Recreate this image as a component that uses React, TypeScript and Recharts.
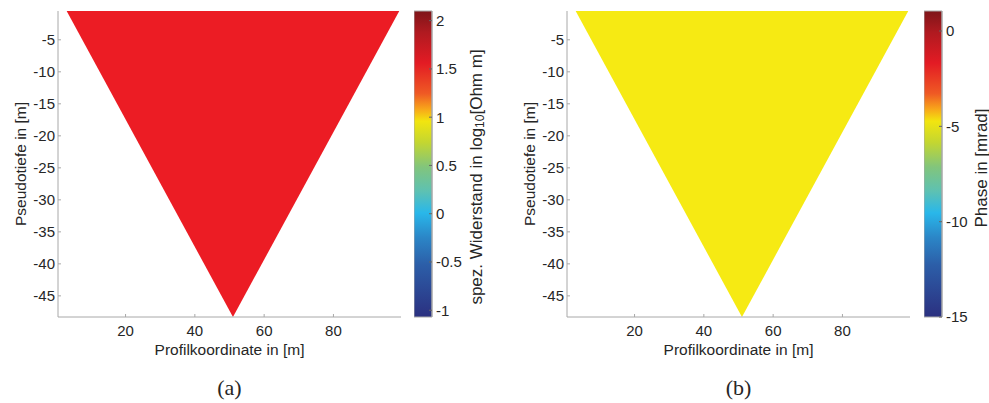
import React from 'react';
import { ComposedChart, Area, XAxis, YAxis, ReferenceArea, Label } from 'recharts';

// Section geometry (profile coordinate in m, pseudo-depth in m)
const profileX = [3, 51, 99];
const depthUpper = [-0.5, -0.5, -0.5];
const depthLower = [-0.5, -48.3, -0.5];

const xTicks = [20, 40, 60, 80];
const yTicks = [-45, -40, -35, -30, -25, -20, -15, -10, -5];
const xDomain = [0.5, 99.5];
const yDomain = [-48.3, -0.5];

// Colour bars
const resTicks = [-1, -0.5, 0, 0.5, 1, 1.5, 2];
const resDomain = [-1.07, 2.1];
const phaseTicks = [-15, -10, -5, 0];
const phaseDomain = [-15, 1.05];

const captions = ['(a)', '(b)'];
const xLabelText = 'Profilkoordinate in [m]';
const yLabelText = 'Pseudotiefe in [m]';

const sectionData = profileX.map((x, i) => ({ x, band: [depthLower[i], depthUpper[i]] }));

const AX = '#a8a8a8';
const TXT = '#262626';
const SANS = '"Liberation Sans", Arial, Helvetica, sans-serif';
const SERIF = '"Liberation Serif", "DejaVu Serif", serif';

const cmapStops: [number, string][] = [
  [0, '#7e1519'],
  [0.07, '#b01a20'],
  [0.17, '#e31b24'],
  [0.27, '#ef5a24'],
  [0.32, '#f8a51a'],
  [0.36, '#f2e50f'],
  [0.43, '#c3d631'],
  [0.51, '#82c57c'],
  [0.59, '#5dc1b3'],
  [0.66, '#29b7ea'],
  [0.74, '#2b86c7'],
  [0.83, '#2c5ea8'],
  [1, '#2b3080'],
];

const tickStyle = { fill: TXT, fontSize: 15, fontFamily: SANS };

function Section({ left, fill, caption }: { left: number; fill: string; caption: string }) {
  return (
    <div style={{ position: 'absolute', left, top: 0 }}>
      <ComposedChart width={58 + 345} height={403} data={sectionData} margin={{ top: 11, right: 2, bottom: 46, left: 0 }}>
        <XAxis
          dataKey="x"
          type="number"
          domain={xDomain}
          ticks={xTicks}
          allowDataOverflow
          height={40}
          tickSize={-3}
          tickMargin={11}
          axisLine={{ stroke: AX }}
          tickLine={{ stroke: AX }}
          tick={tickStyle}
        >
          <Label
            content={(p: any) => {
              const vb = p.viewBox;
              return (
                <g>
                  <text x={vb.x + vb.width / 2} y={vb.y + 38} textAnchor="middle" fill={TXT} fontSize={15.5} fontFamily={SANS}>
                    {xLabelText}
                  </text>
                  <text x={vb.x + vb.width / 2} y={395} textAnchor="middle" fill={TXT} fontSize={22} fontFamily={SERIF}>
                    {caption}
                  </text>
                </g>
              );
            }}
          />
        </XAxis>
        <XAxis xAxisId="top" orientation="top" type="number" domain={xDomain} ticks={xTicks} allowDataOverflow height={0} tickSize={-3} tickFormatter={() => ''} axisLine={{ stroke: AX }} tickLine={{ stroke: AX }} />
        <YAxis
          type="number"
          domain={yDomain}
          ticks={yTicks}
          allowDataOverflow
          width={58}
          tickSize={-3}
          tickMargin={6}
          axisLine={{ stroke: AX }}
          tickLine={{ stroke: AX }}
          tick={tickStyle}
        >
          <Label
            content={(p: any) => {
              const vb = p.viewBox;
              const cy = vb.y + vb.height / 2;
              return (
                <text transform={`translate(20, ${cy}) rotate(-90)`} textAnchor="middle" dominantBaseline="central" fill={TXT} fontSize={15.5} fontFamily={SANS}>
                  {yLabelText}
                </text>
              );
            }}
          />
        </YAxis>
        <YAxis yAxisId="right" orientation="right" type="number" domain={yDomain} ticks={yTicks} allowDataOverflow width={0} tickSize={-3} tickFormatter={() => ''} axisLine={{ stroke: AX }} tickLine={{ stroke: AX }} />
        <Area dataKey="band" type="linear" stroke="none" fill={fill} fillOpacity={1} isAnimationActive={false} />
      </ComposedChart>
    </div>
  );
}

function Colorbar({ left, domain, ticks, gradId, label, labelX, labelY }: { left: number; domain: number[]; ticks: number[]; gradId: string; label: React.ReactNode; labelX: number; labelY: number }) {
  const data = [{ c: 0 }, { c: 1 }];
  return (
    <div style={{ position: 'absolute', left, top: 0 }}>
      <ComposedChart width={18 + 70} height={403} data={data} margin={{ top: 11, right: 0, bottom: 86, left: 0 }}>
        <defs>
          <linearGradient id={gradId} x1="0" y1="0" x2="0" y2="1">
            {cmapStops.map(([o, c]) => (
              <stop key={o} offset={o} stopColor={c} />
            ))}
          </linearGradient>
        </defs>
        <XAxis dataKey="c" type="number" domain={[0, 1]} hide />
        <ReferenceArea x1={0} x2={1} y1={domain[0]} y2={domain[1]} fill={`url(#${gradId})`} fillOpacity={1} stroke={AX} strokeWidth={1} ifOverflow="visible" />
        <YAxis
          orientation="right"
          type="number"
          domain={domain}
          ticks={ticks}
          allowDataOverflow
          width={70}
          tickSize={-3}
          tickMargin={7}
          axisLine={{ stroke: AX }}
          tickLine={{ stroke: '#666' }}
          tick={{ ...tickStyle, textAnchor: 'start' }}
        >
          <Label
            content={() => (
              <text transform={`translate(${labelX}, ${labelY}) rotate(-90)`} textAnchor="middle" dominantBaseline="central" fill={TXT} fontSize={17} fontFamily={SANS}>
                {label}
              </text>
            )}
          />
        </YAxis>
      </ComposedChart>
    </div>
  );
}

export default function App() {
  return (
    <div style={{ position: 'absolute', left: 0, top: 0, width: 989, height: 403, background: '#fff', overflow: 'hidden' }}>
      <Section left={0} fill="#ec1c24" caption={captions[0]} />
      <Colorbar
        left={414}
        domain={resDomain}
        ticks={resTicks}
        gradId="cmapA"
        labelX={62}
        labelY={177}
        label={
          <>
            <tspan>spez. Widerstand in log</tspan>
            <tspan dy="4" fontSize={12}>10</tspan>
            <tspan dy="-4">[Ohm m]</tspan>
          </>
        }
      />
      <Section left={509} fill="#f6ea13" caption={captions[1]} />
      <Colorbar left={924} domain={phaseDomain} ticks={phaseTicks} gradId="cmapB" labelX={57} labelY={168} label={<tspan>Phase in [mrad]</tspan>} />
    </div>
  );
}
